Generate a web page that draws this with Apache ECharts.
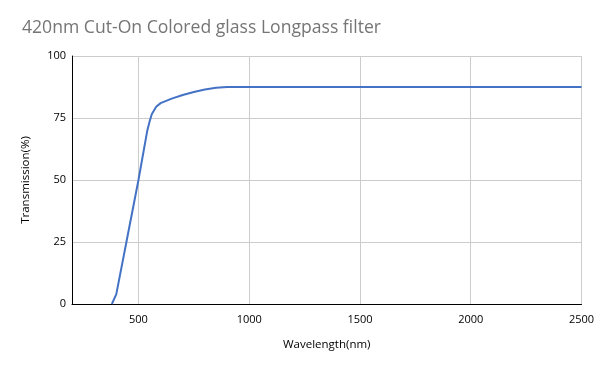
<!DOCTYPE html>
<html><head><meta charset="utf-8">
<script src="https://cdn.jsdelivr.net/npm/echarts@6/dist/echarts.min.js"></script>
<style>html,body{margin:0;padding:0;background:#fff}#c{width:600px;height:371px}</style>
</head><body><div id="c"></div>
<script>
const titleText = "420nm Cut-On Colored glass Longpass filter";
const xAxisName = "Wavelength(nm)";
const yAxisName = "Transmission(%)";
const wavelengths = [380, 400, 450, 500, 540, 550, 560, 580, 600, 650, 700, 750, 800, 850, 900, 1000, 1500, 2000, 2500];
const transmission = [0, 4, 27, 50, 70, 73.5, 76.5, 79.5, 81, 82.8, 84.3, 85.5, 86.5, 87.2, 87.5, 87.5, 87.5, 87.5, 87.5];
const xTicks = [500, 1000, 1500, 2000, 2500];
const yTicks = [0, 25, 50, 75, 100];

const chart = echarts.init(document.getElementById('c'));
chart.setOption({
  animation: false,
  title: {
    text: titleText, left: 17, top: 14,
    textStyle: { fontFamily: 'Open Sans', fontSize: 17.6, fontWeight: 'normal', color: '#757575' }
  },
  grid: { left: 72, right: 18.5, top: 56, bottom: 67 },
  xAxis: {
    type: 'value', min: 200, max: 2500,
    name: xAxisName, nameLocation: 'middle', nameGap: 35,
    nameTextStyle: { fontFamily: 'Open Sans', fontSize: 11.5, color: '#000' },
    axisLine: { show: true, lineStyle: { color: '#000', width: 1 } },
    axisTick: { show: false, customValues: xTicks },
    axisLabel: { customValues: xTicks, formatter: v => String(v), fontFamily: 'Open Sans', fontSize: 11, color: '#000', margin: 10 },
    splitLine: { show: true, lineStyle: { color: '#cccccc', width: 1 } }
  },
  yAxis: {
    type: 'value', min: 0, max: 100, interval: 25,
    name: yAxisName, nameLocation: 'middle', nameGap: 40, nameRotate: 90,
    nameTextStyle: { fontFamily: 'Open Sans', fontSize: 11.5, color: '#000' },
    axisLine: { show: true, lineStyle: { color: '#000', width: 1 } },
    axisTick: { show: false },
    axisLabel: { formatter: v => String(v), fontFamily: 'Open Sans', fontSize: 11, color: '#000', margin: 6 },
    splitLine: { show: true, lineStyle: { color: '#cccccc', width: 1 } }
  },
  series: [{
    type: 'line', showSymbol: false, smooth: false,
    data: wavelengths.map((w, i) => [w, transmission[i]]),
    lineStyle: { color: '#4472c4', width: 2 },
    itemStyle: { color: '#4472c4' }
  }]
});
</script></body></html>
